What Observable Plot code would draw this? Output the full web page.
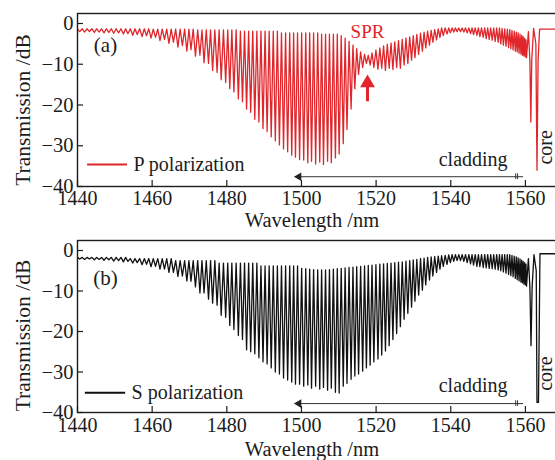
<!DOCTYPE html>
<html><head><meta charset="utf-8">
<script src="https://cdn.jsdelivr.net/npm/d3@7"></script>
<script src="https://cdn.jsdelivr.net/npm/@observablehq/plot@0.6"></script>
<style>
html,body{margin:0;padding:0;background:#fff;overflow:hidden;width:555px;height:460px}
#chart{position:relative;width:555px;height:460px;overflow:hidden}
#chart svg{display:block;max-width:none !important}
</style></head>
<body><div id="chart"></div>
<script>
// ---------- data ----------
const xTicks = [1440, 1460, 1480, 1500, 1520, 1540, 1560];
const yTicks = [0, -10, -20, -30, -40];

// cladding-mode resonance wavelengths (nm)
const dipNm = [1440.6,1441.9,1443.2,1444.5,1445.8,1447.1,1448.4,1449.7,1451.0,1452.3,
1453.5,1454.8,1456.0,1457.3,1458.5,1459.7,1460.9,1462.1,1463.3,1464.5,
1465.7,1466.9,1468.1,1469.3,1470.4,1471.6,1472.8,1473.9,1475.1,1476.2,
1477.4,1478.5,1479.7,1480.8,1481.9,1483.1,1484.2,1485.3,1486.4,1487.5,
1488.6,1489.7,1490.8,1491.9,1493.0,1494.1,1495.2,1496.3,1497.4,1498.4,
1499.5,1500.6,1501.7,1502.7,1503.8,1504.9,1505.9,1507.0,1508.0,1509.1,
1510.1,1511.2,1512.2,1513.3,1514.3,1515.3,1516.4,1517.4,1518.4,1519.4,
1520.5,1521.5,1522.5,1523.5,1524.5,1525.5,1526.5,1527.5,1528.5,1529.5,
1530.4,1531.4,1532.4,1533.3,1534.3,1535.2,1536.2,1537.1,1538.0,1539.0,
1539.9,1540.8,1541.7,1542.6,1543.5,1544.4,1545.3,1546.1,1547.0,1547.8,
1548.7,1549.5,1550.3,1551.1,1551.9,1552.7,1553.4,1554.1,1554.8,1555.5,
1556.1,1556.7,1557.3,1557.8,1558.3,1558.8,1559.2,1559.6,1560.0,1560.3];

// P polarization: dip depth (dB) and level between dips (dB)
const pDipDb = [-2.0,-2.1,-2.0,-2.2,-2.1,-2.3,-2.2,-2.4,-2.3,-2.6,
-2.5,-2.9,-2.7,-3.2,-3.0,-3.6,-3.4,-4.2,-3.9,-4.9,
-4.6,-5.8,-5.4,-6.8,-6.4,-8.0,-7.8,-9.6,-9.8,-11.5,
-12.0,-13.8,-14.5,-16.0,-16.8,-18.5,-19.2,-21.0,-21.8,-23.5,
-24.2,-25.8,-26.5,-27.8,-28.8,-29.8,-30.8,-31.5,-32.3,-32.8,
-33.4,-33.5,-34.2,-33.8,-34.5,-34.0,-34.6,-33.8,-34.2,-33.0,
-32.0,-29.5,-26.0,-21.0,-16.0,-12.5,-10.8,-9.8,-10.2,-10.8,
-11.2,-11.0,-11.5,-11.0,-11.3,-10.8,-11.0,-10.2,-9.8,-9.0,
-8.4,-7.6,-6.8,-6.0,-5.3,-4.6,-4.0,-3.4,-3.0,-2.6,
-2.3,-2.1,-2.0,-2.0,-2.1,-2.3,-2.5,-2.7,-2.9,-3.2,
-3.4,-3.7,-3.9,-4.1,-4.4,-4.6,-5.0,-5.3,-5.6,-5.9,
-6.2,-6.5,-6.8,-7.0,-7.3,-7.5,-7.8,-8.0,-8.2,-8.4];
const pTopDb = [-1.3,-1.3,-1.3,-1.3,-1.3,-1.3,-1.3,-1.3,-1.3,-1.3,
-1.3,-1.3,-1.3,-1.3,-1.3,-1.4,-1.4,-1.4,-1.4,-1.4,
-1.4,-1.4,-1.4,-1.4,-1.4,-1.6,-1.6,-1.6,-1.6,-1.6,
-1.6,-1.6,-1.6,-1.6,-1.6,-1.9,-1.9,-1.9,-1.9,-1.9,
-1.9,-1.9,-1.9,-1.9,-1.9,-2.3,-2.3,-2.3,-2.3,-2.3,
-2.3,-2.3,-2.3,-2.3,-2.3,-2.6,-2.6,-2.6,-2.6,-2.6,
-3.0,-3.6,-4.4,-5.3,-6.2,-7.0,-7.6,-7.8,-7.2,-6.5,
-6.0,-5.5,-5.1,-4.8,-4.5,-4.2,-3.9,-3.6,-3.3,-3.0,
-2.7,-2.4,-2.1,-1.9,-1.7,-1.5,-1.3,-1.1,-1.1,-1.1,
-1.1,-1.1,-1.1,-1.1,-1.1,-1.1,-1.1,-1.1,-1.1,-1.1,
-1.1,-1.1,-1.1,-1.1,-1.1,-1.1,-1.2,-1.3,-1.4,-1.5,
-1.7,-1.9,-2.1,-2.3,-2.6,-2.9,-3.2,-3.6,-4.0,-2.0];
const pStartDb = -1.4;
const pTailNm = [1560.8, 1561.2, 1561.45, 1561.7, 1562.2, 1562.8, 1563.1, 1563.4, 1563.8, 1569.4];
const pTailDb = [-2.0, -9.0, -24.2, -9.0, -1.2, -5.0, -36.0, -9.0, -1.4, -1.4];

// S polarization
const sDipDb = [-2.1,-2.2,-2.1,-2.3,-2.2,-2.4,-2.3,-2.6,-2.5,-2.8,
-2.7,-3.1,-3.0,-3.5,-3.4,-4.0,-3.9,-4.6,-4.6,-5.4,
-5.4,-6.4,-6.3,-7.5,-7.6,-9.0,-10.5,-10.5,-12.0,-13.0,
-13.5,-16.0,-16.5,-18.5,-19.5,-21.0,-22.0,-24.5,-25.0,-25.5,
-26.5,-27.5,-28.0,-29.0,-30.0,-30.5,-31.5,-32.0,-32.5,-33.0,
-33.0,-33.5,-33.2,-34.0,-33.5,-34.2,-33.8,-34.5,-34.0,-35.0,
-35.2,-33.5,-32.8,-31.8,-31.0,-30.5,-29.8,-29.0,-28.3,-27.5,
-26.8,-25.8,-24.8,-23.5,-22.0,-20.5,-18.8,-17.0,-15.5,-14.0,
-12.5,-11.0,-9.8,-8.5,-7.3,-6.3,-5.4,-4.6,-3.9,-3.4,
-3.0,-2.7,-2.5,-2.5,-2.7,-3.0,-3.3,-3.6,-3.9,-4.0,
-4.2,-4.3,-4.4,-4.5,-4.6,-4.8,-5.0,-5.3,-5.6,-5.9,
-6.2,-6.5,-6.9,-7.2,-7.5,-7.8,-8.0,-8.3,-8.5,-8.8];
const sTopDb = [-1.7,-1.7,-1.7,-1.7,-1.7,-1.7,-1.7,-1.7,-1.7,-1.7,
-2.0,-2.0,-2.0,-2.0,-2.0,-2.0,-2.0,-2.0,-2.0,-2.0,
-2.5,-2.5,-2.5,-2.5,-2.5,-2.5,-2.5,-2.5,-2.5,-2.5,
-3.1,-3.1,-3.1,-3.1,-3.1,-3.1,-3.1,-3.1,-3.1,-3.1,
-3.8,-3.8,-3.8,-3.8,-3.8,-3.8,-3.8,-3.8,-3.8,-3.8,
-4.4,-4.5,-4.6,-4.7,-4.8,-4.8,-4.8,-4.7,-4.6,-4.5,
-4.4,-4.3,-4.2,-4.1,-4.0,-3.9,-3.8,-3.7,-3.6,-3.5,
-3.4,-3.3,-3.2,-3.1,-3.0,-2.9,-2.8,-2.6,-2.5,-2.3,
-2.2,-2.0,-1.9,-1.7,-1.6,-1.5,-1.4,-1.3,-1.2,-1.1,
-1.0,-1.0,-1.0,-1.0,-1.0,-1.0,-1.0,-1.0,-1.0,-1.0,
-1.0,-1.0,-1.0,-1.0,-1.0,-1.0,-1.0,-1.0,-1.0,-1.0,
-1.2,-1.4,-1.6,-1.8,-2.1,-2.4,-2.7,-3.0,-3.4,-2.0];
const sStartDb = -1.7;
const sTailNm = [1560.8, 1561.2, 1561.5, 1561.8, 1562.3, 1562.9, 1563.1, 1563.5, 1563.9, 1569.4];
const sTailDb = [-2.0, -9.0, -23.5, -9.0, -1.0, -5.0, -37.5, -37.5, -0.8, -0.8];

// annotations
const legendNames = ["P polarization", "S polarization"];
const panelTags = ["(a)", "(b)"];
const sprLabel = "SPR";
const sprNm = 1517.7;
const claddingLabel = "cladding";
const claddingRangeNm = [1499.3, 1559.5];
const claddingBreakNm = [1557.4, 1557.9];
const coreLabel = "core";
const coreNm = 1565.3;

// ---------- build ----------
function buildSeries(dips, tops, startDb, tailNm, tailDb) {
  const pts = [{nm: 1440, db: startDb}];
  dipNm.forEach((w, i) => {
    pts.push({nm: w, db: dips[i]});
    if (i < dipNm.length - 1) pts.push({nm: (w + dipNm[i + 1]) / 2, db: tops[i]});
  });
  tailNm.forEach((w, i) => pts.push({nm: w, db: tailDb[i]}));
  return pts;
}
const pSeries = buildSeries(pDipDb, pTopDb, pStartDb, pTailNm, pTailDb);
const sSeries = buildSeries(sDipDb, sTopDb, sStartDb, sTailNm, sTailDb);

const W = 560, ML = 77, MR = 0;
const xDomain = [1440, 1569.4];
const INK = "#1c1c1c";
const RED = "#e0262b";
const FONT = "'Liberation Serif', 'Times New Roman', serif";
const fmtY = d => d < 0 ? "\u2212" + Math.abs(d) : String(d);

function panel(o) {
  const innerH = o.height - o.mt - o.mb;
  const innerW = W - ML - MR;
  const marks = [
    Plot.line(o.series, {x: "nm", y: "db", stroke: o.color, strokeWidth: 1.3, clip: true}),
    Plot.frame({stroke: INK, strokeWidth: 1.4}),
    Plot.axisX({ticks: xTicks, tickSize: 0, tickPadding: o.xPad, label: null, tickFormat: d => String(d), fontSize: 20, fill: INK}),
    Plot.axisY({ticks: yTicks, tickSize: 0, tickPadding: 4, label: null, tickFormat: fmtY, fontSize: 20.5, fill: INK}),
    Plot.tickX(xTicks, {x: d => d, insetTop: innerH - 6, stroke: INK, strokeWidth: 1.2}),
    Plot.tickY(yTicks, {y: d => d, insetRight: innerW - 6, stroke: INK, strokeWidth: 1.2}),
    Plot.text(["Wavelength /nm"], {text: d => d, frameAnchor: "bottom", lineAnchor: "middle", textAnchor: "middle", dy: o.titleDy, dx: -7, fontSize: 20.5, fill: INK}),
    Plot.text(["Transmission /dB"], {text: d => d, frameAnchor: "left", textAnchor: "middle", lineAnchor: "middle", rotate: -90, dx: -54, dy: o.yTitleDy, fontSize: 21.5, fill: INK}),
    Plot.text([o.tag], {text: d => d, x: [1447.5], y: [o.tagDb], fontSize: 21, fill: INK}),
    Plot.ruleY([o.legDb], {y: d => d, x1: o.legX[0], x2: o.legX[1], stroke: o.color, strokeWidth: 2}),
    Plot.text([o.legend], {text: d => d, x: [o.legTextNm], y: [o.legDb], textAnchor: "start", fontSize: 20, fill: INK}),
    Plot.text([claddingLabel], {text: d => d, x: [1546.0], y: [o.cladTextDb], fontSize: 20, fill: INK}),
    Plot.ruleY([o.cladDb], {y: d => d, x1: claddingRangeNm[0] + 0.3, x2: claddingRangeNm[1], stroke: "#333", strokeWidth: 1}),
    Plot.dot([o.cladDb], {y: d => d, x: claddingRangeNm[0], symbol: "triangle", rotate: -90, r: 3.2, fill: "#222", stroke: null}),
    Plot.ruleX(claddingBreakNm, {x: d => d, y1: o.cladDb - 0.7, y2: o.cladDb + 0.7, stroke: "#333", strokeWidth: 1}),
    Plot.text([coreLabel], {text: d => d, x: [coreNm], y: [-30.4], rotate: -90, fontSize: 20, fill: INK})
  ];
  if (o.spr) {
    marks.push(
      Plot.text([sprLabel], {text: d => d, x: [sprNm], y: [-2.0], fontSize: 19, fill: RED}),
      Plot.ruleX([sprNm], {x: d => d, y1: -19.2, y2: -15.0, stroke: RED, strokeWidth: 3}),
      Plot.dot([sprNm], {x: d => d, y: -14.6, symbol: "triangle", r: 5.5, fill: RED, stroke: null})
    );
  }
  return Plot.plot({
    width: W, height: o.height,
    marginLeft: ML, marginRight: MR, marginTop: o.mt, marginBottom: o.mb,
    x: {domain: xDomain},
    y: {domain: o.yDomain},
    style: {fontFamily: FONT, fontSize: "21px", color: INK, background: "white", maxWidth: "none", overflow: "visible"},
    marks
  });
}

const plotP = panel({
  series: pSeries, color: RED, height: 232, mt: 13, mb: 46, yDomain: [-40, 2.45],
  xPad: 4, titleDy: 34, yTitleDy: 10, tag: panelTags[0], tagDb: -5.4,
  legend: legendNames[0], legDb: -34.6, legX: [1442.7, 1453.4], legTextNm: 1455.0,
  cladTextDb: -33.4, cladDb: -37.6, spr: true
});
const plotS = panel({
  series: sSeries, color: "#111", height: 228, mt: 8, mb: 48, yDomain: [-40, 2.47],
  xPad: 5, titleDy: 37, yTitleDy: 9, tag: panelTags[1], tagDb: -6.9,
  legend: legendNames[1], legDb: -35.1, legX: [1442.1, 1452.9], legTextNm: 1454.5,
  cladTextDb: -33.4, cladDb: -37.8, spr: false
});
const chartEl = document.getElementById("chart");
chartEl.appendChild(plotP);
chartEl.appendChild(plotS);
</script>
</body></html>
